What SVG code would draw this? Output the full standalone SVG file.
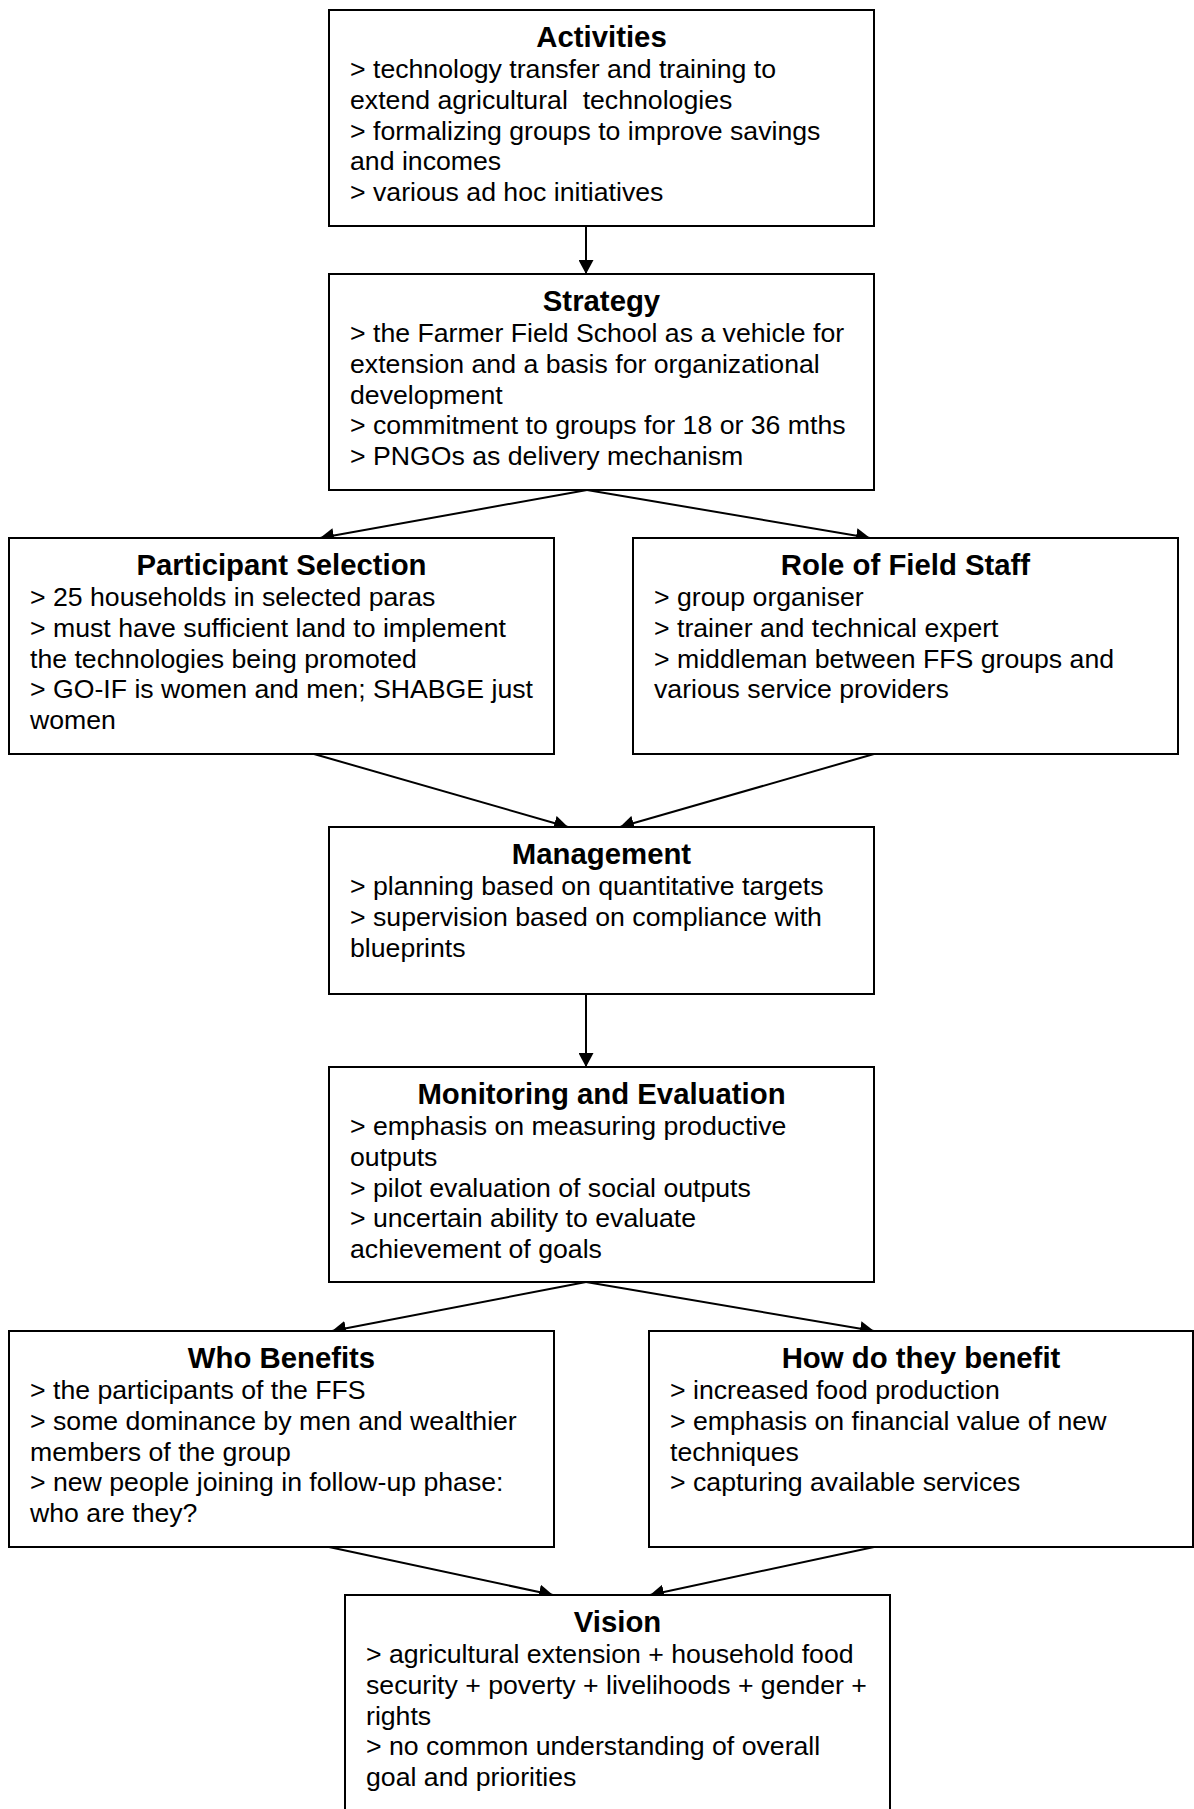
<svg xmlns="http://www.w3.org/2000/svg" width="1194" height="1809" viewBox="0 0 1194 1809">
<style>
.box{fill:#fff;stroke:#000;stroke-width:2}
.t{font-family:"Liberation Sans",Arial,sans-serif;font-size:29.33px;font-weight:bold;text-anchor:middle;fill:#000}
.b{font-family:"Liberation Sans",Arial,sans-serif;font-size:26.67px;fill:#000;white-space:pre}
.c{stroke:#000;stroke-width:2;fill:none;marker-end:url(#ah)}
</style>
<defs>
<marker id="ah" markerUnits="userSpaceOnUse" markerWidth="15" markerHeight="15" refX="14" refY="7.5" orient="auto">
<path d="M0,0 L14,7.5 L0,15 z" fill="#000"/>
</marker>
</defs>
<rect width="1194" height="1809" fill="#fff"/>
<g id="connectors">
<line class="c" x1="586" y1="226" x2="586" y2="274"/>
<line class="c" x1="587" y1="490" x2="320" y2="538"/>
<line class="c" x1="587" y1="490" x2="870" y2="538"/>
<line class="c" x1="314" y1="754" x2="568" y2="827"/>
<line class="c" x1="874" y1="754" x2="620" y2="827"/>
<line class="c" x1="586" y1="994" x2="586" y2="1067"/>
<line class="c" x1="586" y1="1282" x2="332" y2="1331"/>
<line class="c" x1="586" y1="1282" x2="874" y2="1331"/>
<line class="c" x1="329" y1="1547" x2="553" y2="1595"/>
<line class="c" x1="874" y1="1547" x2="650" y2="1595"/>
</g>
<g id="activities">
<rect class="box" x="329" y="10" width="545" height="216"/>
<text class="t" x="601.5" y="47">Activities</text>
<text class="b"><tspan x="350" y="78.3">&gt; technology transfer and training to</tspan><tspan x="350" dy="30.67">extend agricultural  technologies</tspan><tspan x="350" dy="30.67">&gt; formalizing groups to improve savings</tspan><tspan x="350" dy="30.67">and incomes</tspan><tspan x="350" dy="30.67">&gt; various ad hoc initiatives</tspan></text>
</g>
<g id="strategy">
<rect class="box" x="329" y="274" width="545" height="216"/>
<text class="t" x="601.5" y="311">Strategy</text>
<text class="b"><tspan x="350" y="342.3">&gt; the Farmer Field School as a vehicle for</tspan><tspan x="350" dy="30.67">extension and a basis for organizational</tspan><tspan x="350" dy="30.67">development</tspan><tspan x="350" dy="30.67">&gt; commitment to groups for 18 or 36 mths</tspan><tspan x="350" dy="30.67">&gt; PNGOs as delivery mechanism</tspan></text>
</g>
<g id="participant-selection">
<rect class="box" x="9" y="538" width="545" height="216"/>
<text class="t" x="281.5" y="575">Participant Selection</text>
<text class="b"><tspan x="30" y="606.3">&gt; 25 households in selected paras</tspan><tspan x="30" dy="30.67">&gt; must have sufficient land to implement</tspan><tspan x="30" dy="30.67">the technologies being promoted</tspan><tspan x="30" dy="30.67">&gt; GO-IF is women and men; SHABGE just</tspan><tspan x="30" dy="30.67">women</tspan></text>
</g>
<g id="role-of-field-staff">
<rect class="box" x="633" y="538" width="545" height="216"/>
<text class="t" x="905.5" y="575">Role of Field Staff</text>
<text class="b"><tspan x="654" y="606.3">&gt; group organiser</tspan><tspan x="654" dy="30.67">&gt; trainer and technical expert</tspan><tspan x="654" dy="30.67">&gt; middleman between FFS groups and</tspan><tspan x="654" dy="30.67">various service providers</tspan></text>
</g>
<g id="management">
<rect class="box" x="329" y="827" width="545" height="167"/>
<text class="t" x="601.5" y="864">Management</text>
<text class="b"><tspan x="350" y="895.3">&gt; planning based on quantitative targets</tspan><tspan x="350" dy="30.67">&gt; supervision based on compliance with</tspan><tspan x="350" dy="30.67">blueprints</tspan></text>
</g>
<g id="monitoring-evaluation">
<rect class="box" x="329" y="1067" width="545" height="215"/>
<text class="t" x="601.5" y="1104">Monitoring and Evaluation</text>
<text class="b"><tspan x="350" y="1135.3">&gt; emphasis on measuring productive</tspan><tspan x="350" dy="30.67">outputs</tspan><tspan x="350" dy="30.67">&gt; pilot evaluation of social outputs</tspan><tspan x="350" dy="30.67">&gt; uncertain ability to evaluate</tspan><tspan x="350" dy="30.67">achievement of goals</tspan></text>
</g>
<g id="who-benefits">
<rect class="box" x="9" y="1331" width="545" height="216"/>
<text class="t" x="281.5" y="1368">Who Benefits</text>
<text class="b"><tspan x="30" y="1399.3">&gt; the participants of the FFS</tspan><tspan x="30" dy="30.67">&gt; some dominance by men and wealthier</tspan><tspan x="30" dy="30.67">members of the group</tspan><tspan x="30" dy="30.67">&gt; new people joining in follow-up phase:</tspan><tspan x="30" dy="30.67">who are they?</tspan></text>
</g>
<g id="how-benefit">
<rect class="box" x="649" y="1331" width="544" height="216"/>
<text class="t" x="921" y="1368">How do they benefit</text>
<text class="b"><tspan x="670" y="1399.3">&gt; increased food production</tspan><tspan x="670" dy="30.67">&gt; emphasis on financial value of new</tspan><tspan x="670" dy="30.67">techniques</tspan><tspan x="670" dy="30.67">&gt; capturing available services</tspan></text>
</g>
<g id="vision">
<rect class="box" x="345" y="1595" width="545" height="220"/>
<text class="t" x="617.5" y="1632">Vision</text>
<text class="b"><tspan x="366" y="1663.3">&gt; agricultural extension + household food</tspan><tspan x="366" dy="30.67">security + poverty + livelihoods + gender +</tspan><tspan x="366" dy="30.67">rights</tspan><tspan x="366" dy="30.67">&gt; no common understanding of overall</tspan><tspan x="366" dy="30.67">goal and priorities</tspan></text>
</g>
</svg>
